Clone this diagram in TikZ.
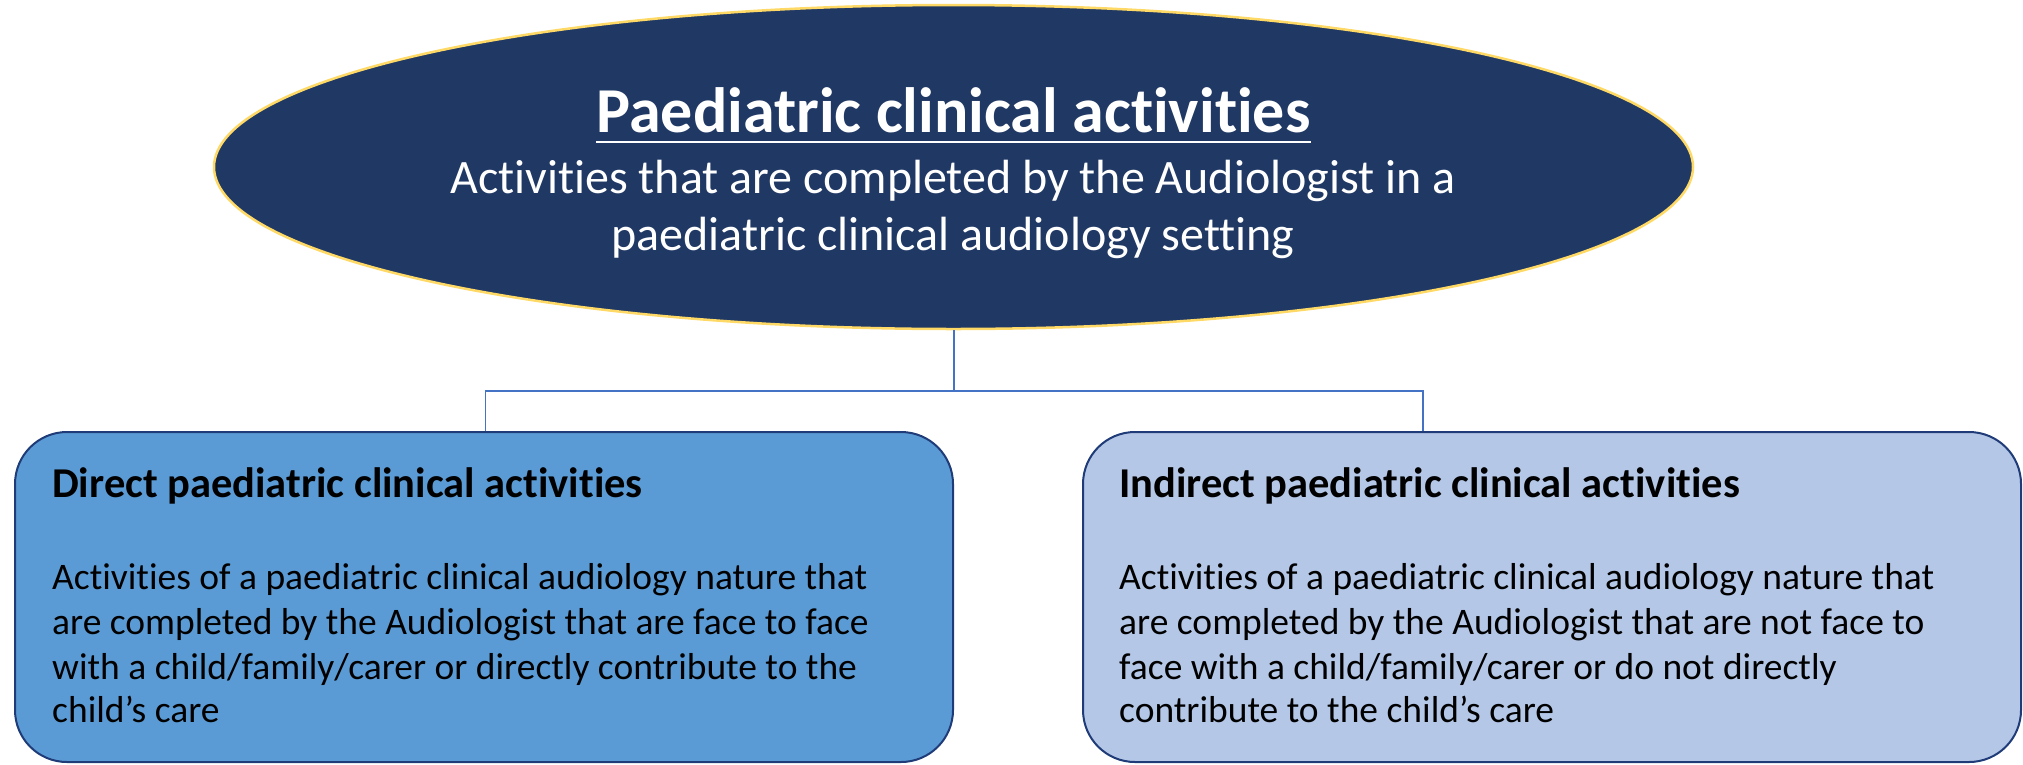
\documentclass[tikz,border=0pt]{standalone}
\usepackage{fontspec}
\setmainfont{Carlito}[Ligatures=CommonOff]
\usetikzlibrary{shapes.geometric}
\definecolor{navy}{HTML}{203864}
\definecolor{gold}{HTML}{FFD966}
\definecolor{midblue}{HTML}{5B9BD5}
\definecolor{paleblue}{HTML}{B4C7E7}
\definecolor{linkblue}{HTML}{4472C4}
\definecolor{boxedge}{HTML}{1F3C78}
\tikzset{
  topell/.style={ellipse, draw=gold, line width=2.5pt, fill=navy, minimum width=1479pt, minimum height=324pt, inner sep=0pt},
  catbox/.style={rectangle, draw=boxedge, line width=2pt, rounded corners=52pt, minimum width=938pt, minimum height=330pt, inner sep=0pt},
  conn/.style={draw=linkblue, line width=1.5pt},
  subtxt/.style={anchor=base, inner sep=0pt, text=white, font=\fontsize{48}{57}\selectfont},
  headtxt/.style={anchor=base west, inner sep=0pt, font=\fontsize{42.5}{50}\selectfont\bfseries},
  bodytxt/.style={anchor=base west, inner sep=0pt, font=\fontsize{37.5}{44.5}\selectfont}
}
\begin{document}
\begin{tikzpicture}[x=1pt,y=-1pt]
\useasboundingbox (0,0) rectangle (2023,764);
\node[topell] (el) at (953.5,167) {};
\node[anchor=base, inner sep=0pt, text=white, font=\fontsize{64}{75}\selectfont\bfseries] (title) at (953.5,132) {Paediatric clinical activities};
\draw[white, line width=2.8pt] ([yshift=-10pt]title.base west) -- ([yshift=-10pt]title.base east);
\node[subtxt] (sub1) at (953,193) {Activities that are completed by the Audiologist in a};
\node[subtxt] (sub2) at (953,250) {paediatric clinical audiology setting};
\node[catbox, fill=midblue] (lb) at (484,597) {};
\node[catbox, fill=paleblue] (rb) at (1552,597) {};
\node[headtxt] (lh) at (52,497) {Direct paediatric clinical activities};
\node[bodytxt] (l1) at (52,589) {Activities of a paediatric clinical audiology nature that};
\node[bodytxt] (l2) at (52,634) {are completed by the Audiologist that are face to face};
\node[bodytxt] (l3) at (52,679) {with a child/family/carer or directly contribute to the};
\node[bodytxt] (l4) at (52,722) {child’s care};
\node[headtxt] (rh) at (1119,497) {Indirect paediatric clinical activities};
\node[bodytxt] (r1) at (1119,589) {Activities of a paediatric clinical audiology nature that};
\node[bodytxt] (r2) at (1119,634) {are completed by the Audiologist that are not face to};
\node[bodytxt] (r3) at (1119,679) {face with a child/family/carer or do not directly};
\node[bodytxt] (r4) at (1119,722) {contribute to the child’s care};
\coordinate (rj) at (1423,431);
\draw[conn, line width=2pt] (el.south) -- ++(0,61);
\draw[conn] ([xshift=1.5pt]lb.north) -- ++(0,-40) -| (rj);
\end{tikzpicture}
\end{document}
